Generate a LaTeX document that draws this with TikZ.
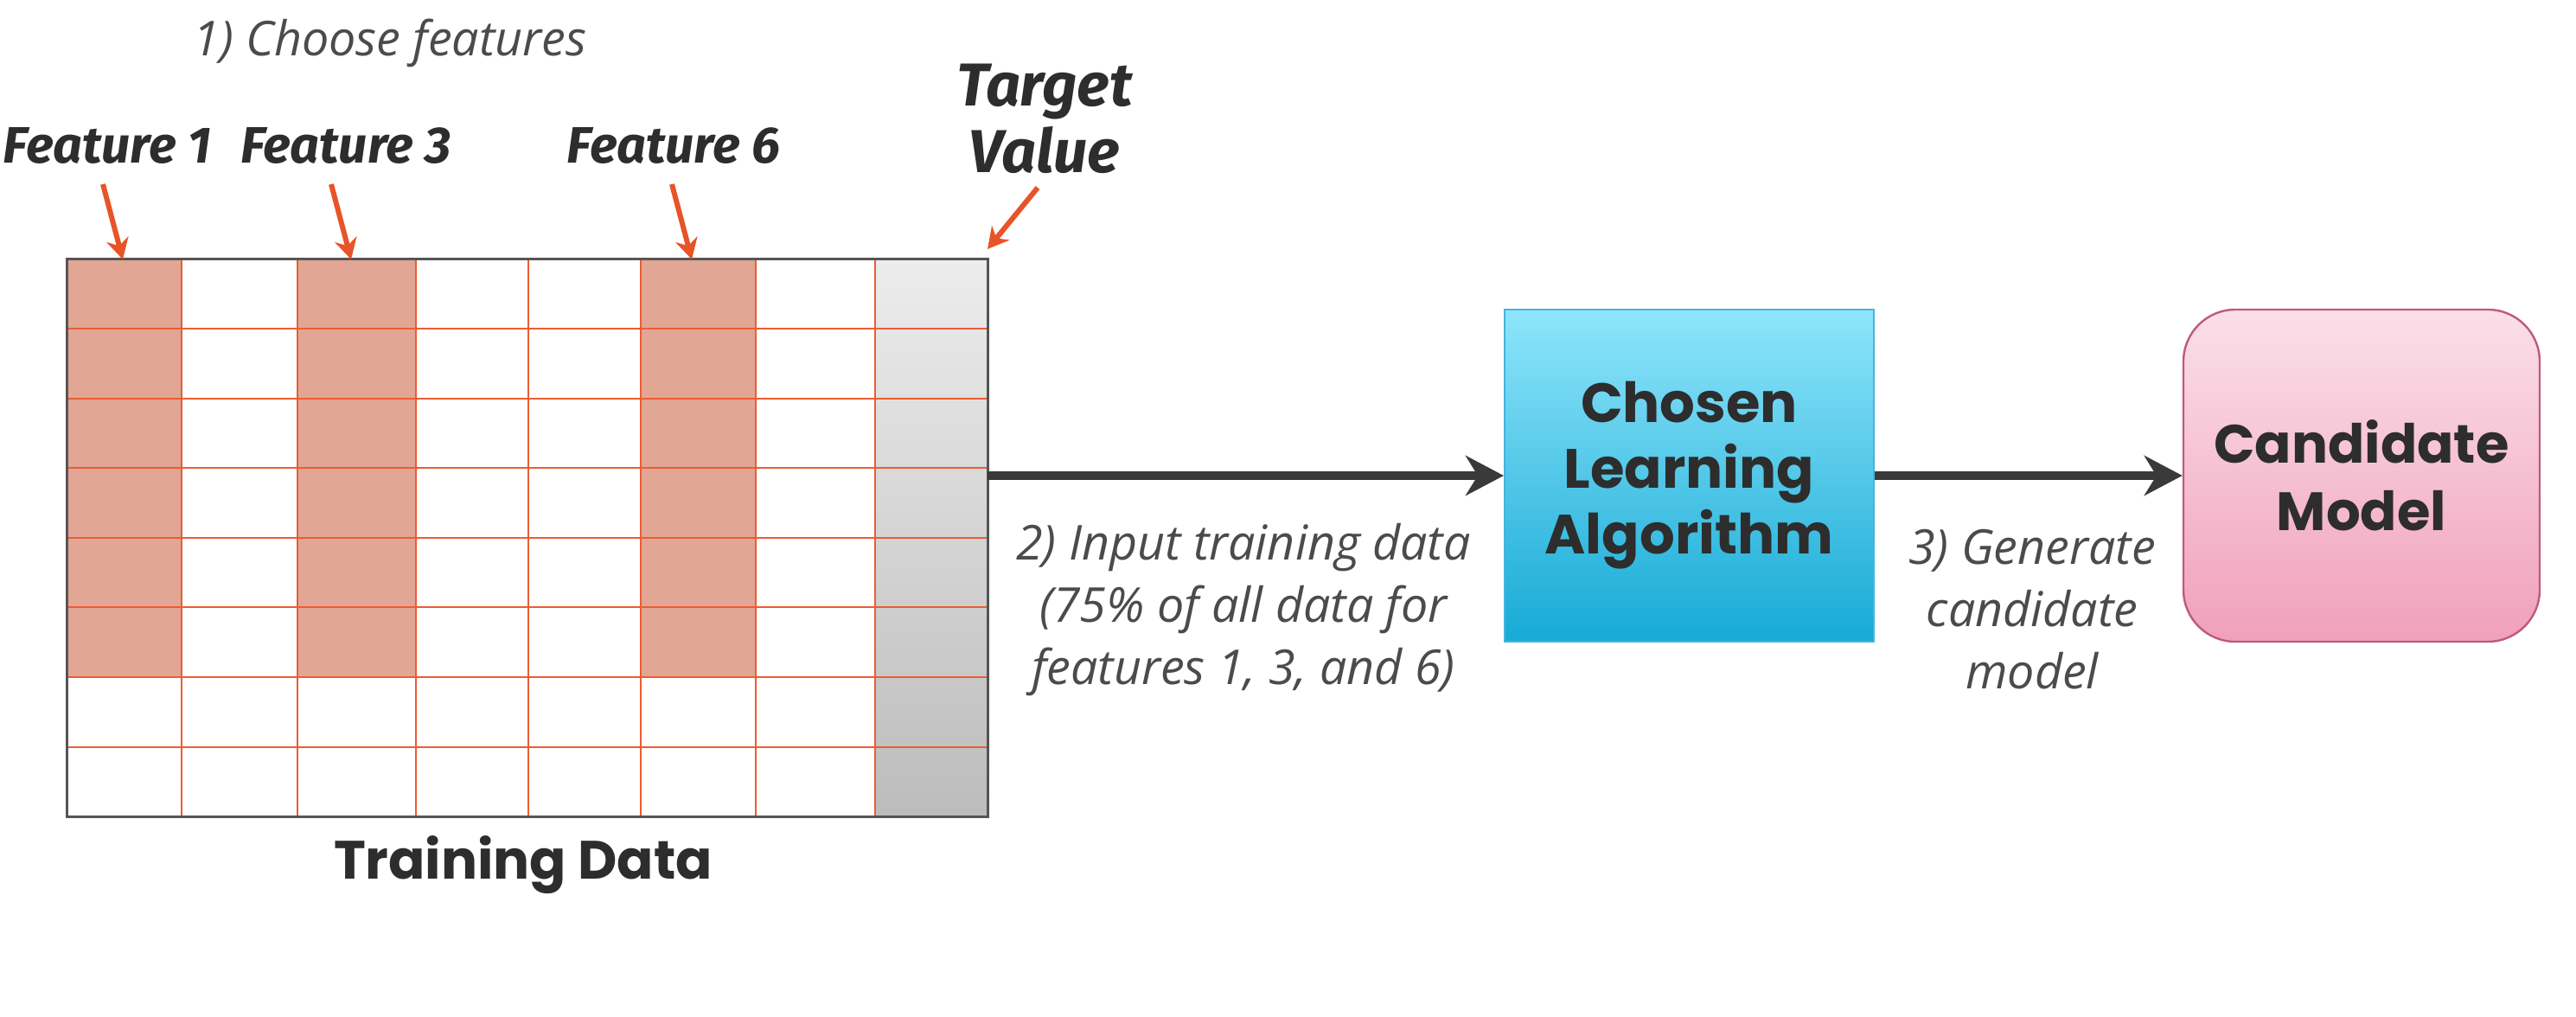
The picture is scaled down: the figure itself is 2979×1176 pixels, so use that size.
\documentclass[tikz,border=0pt]{standalone}
\usepackage{fontspec}
\setmainfont{Open Sans}
\newfontfamily\headfont{Poppins}
\newfontfamily\featfont{Fira Sans}
\usetikzlibrary{arrows.meta}
\definecolor{gridorange}{RGB}{236,92,52}
\definecolor{ptrorange}{RGB}{232,84,40}
\definecolor{featsalmon}{RGB}{226,166,148}
\definecolor{gridborder}{RGB}{85,85,85}
\definecolor{txtdark}{RGB}{45,45,45}
\definecolor{txtgray}{RGB}{75,75,75}
\definecolor{flowgray}{RGB}{58,58,58}
\definecolor{bluetop}{RGB}{143,229,251}
\definecolor{bluebot}{RGB}{22,170,214}
\definecolor{blueedge}{RGB}{70,180,220}
\definecolor{pinktop}{RGB}{251,223,233}
\definecolor{pinkbot}{RGB}{240,160,188}
\definecolor{pinkedge}{RGB}{190,90,125}
\definecolor{graytop}{RGB}{236,236,236}
\definecolor{graybot}{RGB}{188,188,188}
\tikzset{
  gridline/.style={draw=gridorange, line width=0.5pt},
  featlabel/.style={font=\featfont\bfseries\itshape\fontsize{14.8}{17}\selectfont, text=txtdark, inner sep=0pt},
  targetlabel/.style={font=\featfont\bfseries\itshape\fontsize{17.5}{19.3}\selectfont, text=txtdark, inner sep=0pt, align=center},
  pointer/.style={draw=ptrorange, line width=1.5pt, -{Stealth[length=6pt,width=6.5pt]}},
  flow/.style={draw=flowgray, line width=2.3pt, -{Stealth[length=11pt,width=11.5pt,inset=3.5pt]}},
  note/.style={font=\itshape\fontsize{13.9}{18}\selectfont, text=txtgray, align=center, inner sep=0pt},
  boxtext/.style={font=\headfont\bfseries\fontsize{16}{19}\selectfont, text=txtdark, align=center},
}
\begin{document}
\begin{tikzpicture}[x=0.25pt,y=-0.25pt]
\useasboundingbox (0,0) rectangle (2979,1176);
% training data grid
\node[minimum width=266pt, minimum height=161pt, inner sep=0pt, fill=white] (training) at (610,622) {};
\fill[featsalmon] (78,300) rectangle (210,783);
\fill[featsalmon] (344,300) rectangle (481,783);
\fill[featsalmon] (741,300) rectangle (874,783);
\shade[top color=graytop, bottom color=graybot] (1012,300) rectangle (1142,944);
\foreach \x in {210,344,481,611,741,874,1012} \draw[gridline] (\x,300) -- (\x,944);
\foreach \i in {1,...,7} \draw[gridline] (78,300+80.5*\i) -- (1142,300+80.5*\i);
\draw[draw=gridborder, line width=0.7pt] (training.north west) rectangle (training.south east);
\node[font=\headfont\bfseries\fontsize{15.6}{18}\selectfont, text=txtdark, anchor=base] (trainlabel) at (605,1016) {Training Data};
% step 1
\node[note, anchor=base] (step1) at (451,65) {1) Choose features};
\node[featlabel, anchor=base] (f1) at (124,189) {Feature 1};
\node[featlabel, anchor=base] (f3) at (400,189) {Feature 3};
\node[featlabel, anchor=base] (f6) at (779,189) {Feature 6};
\node[targetlabel] (target) at (1208,137) {Target\\Value};
\coordinate (f1s) at (119,213); \coordinate (f1e) at (142,300);
\coordinate (f3s) at (383,213); \coordinate (f3e) at (406,300);
\coordinate (f6s) at (777,213); \coordinate (f6e) at (800,300);
\coordinate (tgs) at (1200,217); \coordinate (tge) at (1142,288);
\draw[pointer] (f1s) -- (f1e);
\draw[pointer] (f3s) -- (f3e);
\draw[pointer] (f6s) -- (f6e);
\draw[pointer] (tgs) -- (tge);
% boxes
\node[boxtext, minimum width=106.75pt, minimum height=96pt, top color=bluetop, bottom color=bluebot, draw=blueedge, line width=0.5pt] (algo) at (1953.5,550) {\raisebox{-2pt}{\parbox{100pt}{\centering Chosen\\Learning\\Algorithm}}};
\node[boxtext, font=\headfont\bfseries\fontsize{15.6}{19.5}\selectfont, minimum width=103pt, minimum height=96pt, rounded corners=15pt, top color=pinktop, bottom color=pinkbot, draw=pinkedge, line width=0.6pt] (cand) at (2731,550) {Candidate\\Model};
\coordinate (gridout) at (1142,550);
\draw[flow] (gridout) -- (algo.west);
\draw[flow] (algo.east) -- (cand.west);
\node[note] (step2) at (1438,705) {2) Input training data\\(75\% of all data for\\features 1, 3, and 6)};
\node[note] (step3) at (2350,705) {3) Generate\\candidate\\model};
\end{tikzpicture}
\end{document}
